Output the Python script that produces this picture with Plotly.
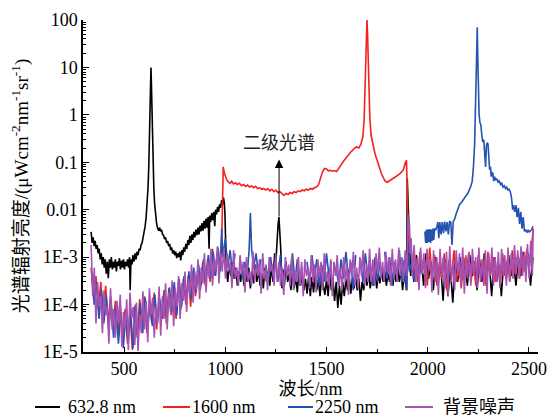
import math
import plotly.graph_objects as go

# ---------------- data (wavelength nm, radiance) ----------------
black_vis = [(337,3.4e-3),(342,2.0e-3),(347,2.6e-3),(352,1.7e-3),(357,2.2e-3),(362,1.5e-3),(367,1.8e-3),
    (372,1.2e-3),(377,1.5e-3),(382,9e-4),(387,1.2e-3),(392,7e-4),(397,1.0e-3),(402,6e-4),(407,9e-4),
    (412,4.5e-4),(417,8e-4),(422,3.6e-4),(427,9e-4),(432,6e-4),(437,1.0e-3),(442,5.5e-4),(447,8e-4),
    (452,6e-4),(457,9e-4),(462,5e-4),(467,8e-4),(472,6.5e-4),(477,9.5e-4),(482,5.5e-4),(487,8.5e-4),
    (492,6e-4),(497,9e-4),(502,5.5e-4),(507,8e-4),(512,6.5e-4),(517,9e-4),(522,6e-4),(527,1.0e-3),
    (530,2.0e-4),(534,9e-4),(539,7e-4),(544,1.1e-3),(549,8e-4),(554,1.2e-3),(559,9e-4),(564,1.3e-3),
    (569,1.1e-3),(574,1.5e-3),(579,1.4e-3),(584,1.8e-3),(589,2.0e-3),(594,2.6e-3),(599,3.2e-3),
    (604,4.5e-3),(609,7e-3),(614,0.013),(618,0.028),(622,0.08),(625,0.25),(628,1.2),(630.5,4.5),
    (632.8,10),(635,4.5),(637.5,1.2),(640,0.25),(643,0.08),(647,0.028),(651,0.013),(656,7e-3),
    (661,5e-3),(666,4e-3),(671,3.6e-3),(676,4.2e-3),(680,3.5e-3),(685,3.8e-3),(690,3.0e-3),(695,2.9e-3),
    (700,2.4e-3),(705,2.6e-3),(710,2.0e-3),(715,2.2e-3),(720,1.7e-3),(725,1.9e-3),(730,1.4e-3),
    (735,1.6e-3),(740,1.2e-3),(745,1.4e-3),(750,1.1e-3),(755,1.3e-3),(760,9.5e-4),(765,1.2e-3),
    (770,1.0e-3),(775,1.3e-3),(780,8.5e-4),(785,1.4e-3),(790,1.1e-3),(795,1.6e-3),(800,1.3e-3),
    (805,1.9e-3),(810,1.5e-3),(815,2.3e-3),(820,1.8e-3),(825,2.8e-3),(830,2.0e-3),(835,3.0e-3),
    (840,2.3e-3),(845,3.4e-3),(850,2.6e-3),(855,3.8e-3),(860,2.9e-3),(865,4.2e-3),(870,3.0e-3),
    (875,4.6e-3),(880,3.5e-3),(885,5.2e-3),(890,3.6e-3),(895,5.8e-3),(900,4.0e-3),(905,6.5e-3),
    (910,4.2e-3),(915,7e-3),(920,1.5e-3),(923,7.5e-3),(928,5.5e-3),(933,8.5e-3),(938,6e-3),(943,9e-3),
    (948,4.5e-3),(952,1e-2),(957,8e-3),(962,1.15e-2),(967,9e-3),(972,1.3e-2),(977,1.1e-2),(982,1.6e-2),
    (987,1.3e-2),(991,1.8e-2),(995,1.4e-2),(998,9e-3),(1000,2e-3)]
black_nir = [(1005,6e-4),(1012,3e-4),(1020,7e-4),(1028,4e-4),(1036,8e-4),(1044,3.5e-4),(1052,6e-4),
    (1060,2.5e-4),(1068,5e-4),(1076,3e-4),(1084,6.5e-4),(1092,2.5e-4),(1100,5.5e-4),(1108,3e-4),
    (1116,6e-4),(1124,2.2e-4),(1132,5e-4),(1140,2.8e-4),(1148,7e-4),(1156,3e-4),(1164,5.5e-4),
    (1172,2.5e-4),(1180,4.5e-4),(1188,2.2e-4),(1196,6e-4),(1204,3e-4),(1212,5e-4),(1220,2.5e-4),
    (1228,6.5e-4),(1236,3e-4),(1244,1.2e-3),(1250,8e-4),(1256,3e-3),(1261,5e-3),(1265,7e-3),
    (1269,4e-3),(1274,1.5e-3),(1280,2.2e-4),(1286,5.5e-4),(1292,2.5e-4),(1300,8e-4),(1308,3e-4),
    (1316,4.5e-4),(1324,2e-4),(1332,5e-4),(1340,2.2e-4),(1348,4e-4),(1356,1.8e-4),(1364,5.5e-4),
    (1372,2.5e-4),(1380,4.5e-4),(1388,2e-4),(1396,3.5e-4),(1404,1.7e-4),(1412,4e-4),(1420,1.5e-4),
    (1428,3.8e-4),(1436,1.8e-4),(1444,4.5e-4),(1452,2e-4),(1460,3.5e-4),(1468,1.5e-4),(1476,4e-4),
    (1484,2.5e-4),(1492,1.6e-4),(1500,3.5e-4),(1508,1.5e-4),(1516,5e-4),(1524,2e-4),(1532,3.5e-4),
    (1540,1.2e-4),(1548,3e-4),(1556,8.5e-5),(1564,2.5e-4),(1572,1.0e-4),(1580,3e-4),(1588,1.5e-4),
    (1596,3.5e-4),(1604,2e-4),(1612,4e-4),(1620,1.7e-4),(1628,3.5e-4),(1636,2.2e-4),(1644,4e-4),
    (1652,2e-4),(1660,3.5e-4),(1668,1.2e-4),(1676,3e-4),(1684,2e-4),(1692,4.5e-4),(1700,2.5e-4),
    (1708,5e-4),(1716,2.2e-4),(1724,4e-4),(1732,2.5e-4),(1740,5e-4),(1748,2.2e-4),(1756,4.5e-4),
    (1764,2.8e-4),(1772,5.5e-4),(1780,3e-4),(1788,5e-4),(1796,2.5e-4),(1804,4.5e-4),(1812,3e-4),
    (1820,5.5e-4),(1828,2.5e-4),(1836,5e-4),(1844,3e-4),(1852,6e-4),(1860,3e-4),(1868,5.5e-4),
    (1876,2e-4),(1884,4.5e-4),(1892,2.2e-4),(1896,2e-4),(1899,0.045),(1904,0.01),(1910,1.5e-3),
    (1916,4e-4)]
black_swir = [(1920,8e-4),(1932,3e-4),(1944,1.1e-3),(1956,4e-4),(1968,9e-4),(1980,2.5e-4),(1992,1.2e-3),
    (2004,3.5e-4),(2016,8e-4),(2028,2e-4),(2040,1.0e-3),(2052,3e-4),(2064,7e-4),(2076,1.2e-4),
    (2088,9e-4),(2100,1.5e-4),(2112,6e-4),(2124,1.1e-4),(2136,8e-4),(2148,3e-4),(2160,1.0e-3),
    (2172,3.5e-4),(2184,7e-4),(2196,2.5e-4),(2208,1.1e-3),(2220,4e-4),(2232,8e-4),(2244,2e-4),
    (2256,9e-4),(2268,3e-4),(2280,1.2e-3),(2292,4e-4),(2304,8e-4),(2316,1.5e-4),(2328,1.0e-3),
    (2340,3e-4),(2352,7e-4),(2364,1.5e-4),(2376,9e-4),(2388,3.5e-4),(2400,1.1e-3),(2412,4e-4),
    (2424,8e-4),(2436,2.5e-4),(2448,1.0e-3),(2460,4e-4),(2472,1.3e-3),(2484,5e-4),(2496,1.2e-3),
    (2508,2.5e-4),(2520,1.0e-3)]

red_vis = [(337,6e-4),(349,1.5e-4),(361,4e-4),(373,8e-5),(385,3e-4),(397,5e-5),(409,2.5e-4),(421,4e-5),
    (433,1.5e-4),(445,3e-5),(457,1.2e-4),(469,2.5e-5),(481,1e-4),(493,2e-5),(505,8e-5),(517,1.5e-5),
    (529,7e-5),(541,1.1e-5),(553,9e-5),(565,2e-5),(577,1.3e-4),(589,3e-5),(601,1.5e-4),(613,2.5e-5),
    (625,1.2e-4),(637,4e-5),(649,1.8e-4),(661,3e-5),(673,1.5e-4),(685,5e-5),(697,2e-4),(709,4e-5),
    (721,2.2e-4),(733,6e-5),(745,2.5e-4),(757,5e-5),(769,3e-4),(781,8e-5),(793,3.5e-4),(805,1e-4),
    (817,4e-4),(829,9e-5),(841,5e-4),(853,1.5e-4),(865,6e-4),(877,2e-4),(889,8e-4),(901,2.5e-4),
    (913,9e-4),(925,3e-4),(937,1.5e-3),(949,4e-4),(961,1.2e-3),(973,6e-4),(983,3e-3)]
red_nir = [(988,0.079),(990,0.08),(995,0.06),(1000,0.05),(1008,0.042),(1016,0.038),(1024,0.036),
    (1032,0.04),(1040,0.035),(1050,0.037),(1060,0.034),(1070,0.036),(1080,0.032),(1090,0.034),
    (1100,0.031),(1110,0.033),(1120,0.03),(1130,0.032),(1140,0.029),(1150,0.031),(1160,0.028),
    (1170,0.029),(1180,0.027),(1190,0.028),(1200,0.026),(1210,0.028),(1220,0.025),(1230,0.027),
    (1240,0.024),(1250,0.026),(1260,0.023),(1270,0.024),(1280,0.022),(1290,0.02),(1300,0.022),
    (1310,0.021),(1320,0.023),(1330,0.022),(1340,0.024),(1350,0.023),(1360,0.025),(1370,0.024),
    (1380,0.026),(1390,0.025),(1400,0.027),(1410,0.026),(1420,0.028),(1430,0.027),(1440,0.029),
    (1450,0.03),(1460,0.033),(1470,0.045),(1480,0.062),(1490,0.074),(1500,0.072),(1510,0.066),
    (1520,0.068),(1530,0.065),(1540,0.067),(1550,0.064),(1560,0.072),(1570,0.085),(1580,0.1),
    (1590,0.115),(1600,0.13),(1610,0.15),(1620,0.165),(1630,0.18),(1640,0.2),(1650,0.21),(1660,0.2),
    (1670,0.24),(1680,0.35),(1686,0.8),(1690,2.5),(1694,12),(1697,50),(1700,100),(1703,50),(1706,12),
    (1710,2.5),(1714,0.9),(1720,0.38),(1730,0.22),(1740,0.15),(1750,0.11),(1760,0.08),(1770,0.06),
    (1780,0.048),(1790,0.04),(1800,0.038),(1810,0.04),(1820,0.043),(1830,0.046),(1840,0.049),
    (1850,0.052),(1860,0.056),(1870,0.062),(1880,0.07),(1890,0.1),(1895,0.11),(1900,0.02)]
red_swir = [(1903,3e-3),(1910,1.2e-3),(1916,2.5e-3),(1926,4e-4),(1938,1.0e-3),(1950,3e-4),(1962,1.3e-3),
    (1974,5e-4),(1986,9e-4),(1998,2.5e-4),(2010,1.6e-3),(2022,4e-4),(2034,1.1e-3),(2046,2.5e-4),
    (2058,8e-4),(2070,3.5e-4),(2082,1.2e-3),(2094,2e-4),(2106,9e-4),(2118,4e-4),(2130,1.4e-3),
    (2142,3e-4),(2154,7e-4),(2166,2.2e-4),(2178,1.0e-3),(2190,4e-4),(2202,1.2e-3),(2214,3e-4),
    (2226,8e-4),(2238,2.5e-4),(2250,1.1e-3),(2262,3.5e-4),(2274,9e-4),(2286,2.5e-4),(2298,1.3e-3),
    (2310,4e-4),(2322,1.0e-3),(2334,3e-4),(2346,8e-4),(2358,2.5e-4),(2370,1.2e-3),(2382,4e-4),
    (2394,9e-4),(2406,3e-4),(2418,1.4e-3),(2430,4.5e-4),(2442,1.0e-3),(2454,3.5e-4),(2466,1.2e-3),
    (2478,5e-4),(2490,1.5e-3),(2502,6e-4),(2514,1.8e-3),(2522,4e-3)]

blue_vis_nir = [(340,5e-4),(352,1e-4),(364,3e-4),(376,5e-5),(388,2e-4),(400,4e-5),(412,1.5e-4),(424,3e-5),
    (436,1.2e-4),(448,2e-5),(460,9e-5),(472,1.5e-5),(484,7e-5),(496,1.2e-5),(508,6e-5),(520,1.5e-5),
    (532,8e-5),(544,1.2e-5),(556,1e-4),(568,2e-5),(580,1.1e-4),(592,2.5e-5),(604,1.4e-4),(616,3e-5),
    (628,1.1e-4),(640,3.5e-5),(652,1.6e-4),(664,4e-5),(676,1.3e-4),(688,5e-5),(700,2e-4),(712,5e-5),
    (724,2.3e-4),(736,7e-5),(748,3e-4),(760,6e-5),(772,3.5e-4),(784,9e-5),(796,4e-4),(808,1.1e-4),
    (820,5e-4),(832,1.3e-4),(844,6e-4),(856,1.8e-4),(868,7e-4),(880,2.5e-4),(892,9e-4),(904,3e-4),
    (916,1.1e-3),(928,3.5e-4),(940,1.3e-3),(952,4e-4),(964,1.6e-3),(976,5e-4),(982,4e-3),(988,1e-3),
    (1000,2.5e-3),(1012,6e-4),(1024,1.4e-3),(1036,4e-4),(1048,1.2e-3),(1060,None),(1072,1.0e-3),
    (1084,3.5e-4),(1096,8e-4),(1108,4e-4),(1118,1.5e-3),(1124,8.5e-3),(1130,1.5e-3),(1140,6e-4),
    (1152,1.2e-3),(1164,4e-4),(1176,9e-4),(1188,None),(1200,7e-4),(1212,3e-4),(1224,1.0e-3),
    (1236,4e-4),(1248,8e-4),(1260,3e-4),(1272,1.1e-3),(1284,2.5e-4),(1296,7e-4),(1308,None),
    (1320,5e-4),(1332,1.2e-3),(1344,3e-4),(1356,9e-4),(1368,2.5e-4),(1380,6e-4),(1392,None),
    (1404,8e-4),(1416,3e-4),(1428,1.1e-3),(1440,4e-4),(1452,9e-4),(1464,2.5e-4),(1476,7e-4),
    (1488,3e-4),(1500,1.2e-3),(1512,4e-4),(1524,8e-4),(1536,None),(1548,6e-4),(1560,2.5e-4),
    (1572,9e-4),(1584,3.5e-4),(1596,1.3e-3),(1608,4e-4),(1620,8e-4),(1632,2e-4),(1644,1.1e-3),
    (1656,None),(1668,9e-4),(1680,3e-4),(1692,1.2e-3),(1704,4e-4),(1716,7e-4),(1728,2.5e-4),
    (1740,1.0e-3),(1752,3e-4),(1764,8e-4),(1776,None),(1788,1.3e-3),(1800,3.5e-4),(1812,1.0e-3),
    (1824,2.5e-4),(1836,8e-4),(1848,4e-4),(1860,1.4e-3),(1872,3e-4),(1884,9e-4),(1896,2e-4),
    (1905,2e-3),(1910,5e-4),(1922,8e-4),(1934,3e-4),(1946,9e-4),(1958,4e-4),(1970,7e-4),(1982,None)]
blue_swir = [(1986,3.5e-3),(1990,2e-3),(1994,3.8e-3),(1998,2e-3),(2002,3.8e-3),(2006,2.1e-3),
    (2010,3.9e-3),(2014,2e-3),(2018,3.8e-3),(2022,2.2e-3),(2026,4e-3),(2030,2.3e-3),(2034,4e-3),
    (2040,3.8e-3),(2046,4.5e-3),(2050,5.5e-3),(2055,2.5e-3),(2060,5.5e-3),(2066,3e-3),(2072,5.5e-3),
    (2078,3.2e-3),(2084,5.6e-3),(2090,3.5e-3),(2096,5.5e-3),(2102,3e-3),(2108,5.6e-3),(2114,5.5e-3),
    (2120,1.8e-3),(2126,5.5e-3),(2134,6.5e-3),(2142,8.5e-3),(2150,0.011),(2158,0.013),(2166,0.014),
    (2174,0.016),(2182,0.018),(2190,0.02),(2198,0.022),(2206,0.026),(2214,0.032),(2220,0.04),
    (2226,0.08),(2232,0.25),(2236,1),(2240,5),(2243,30),(2245,70),(2247,20),(2250,3),(2254,1.0),
    (2258,0.7),(2263,0.6),(2268,0.35),(2272,0.27),(2277,0.3),(2282,0.1),(2286,0.08),(2290,0.22),
    (2294,0.26),(2298,0.24),(2302,0.1),(2306,0.07),(2310,0.08),(2314,0.05),(2318,0.06),(2322,0.058),
    (2326,0.04),(2330,0.05),(2336,0.042),(2342,0.045),(2348,0.038),(2354,0.04),(2360,0.034),
    (2366,0.036),(2372,0.03),(2378,0.032),(2384,0.028),(2390,0.03),(2396,0.026),(2402,0.027),
    (2408,0.024),(2414,0.018),(2420,0.01),(2424,0.0125),(2430,0.009),(2436,0.0125),(2442,0.007),
    (2448,0.011),(2454,0.005),(2460,0.009),(2466,0.004),(2472,0.007),(2478,0.0035),(2484,0.0038),
    (2490,0.0033),(2496,0.0037),(2502,0.0034),(2508,0.0036),(2514,0.0038),(2520,0.0045)]

noise_pts = [(337,1.8e-3),(345,1.5e-4),(353,6e-4),(361,4e-5),(369,3e-4),(377,9e-5),(385,1.5e-4),(393,2.5e-5),
    (401,2e-4),(409,6e-5),(417,9e-5),(425,1.5e-5),(433,2.2e-4),(441,3e-5),(449,8e-5),(457,2e-5),
    (465,1.2e-4),(473,4e-5),(481,1.6e-4),(489,1.3e-5),(497,7e-5),(505,3e-5),(513,1.3e-4),(521,1.1e-5),
    (529,1.8e-4),(537,5e-5),(545,9e-5),(553,1.4e-5),(561,1.1e-4),(569,1.05e-5),(577,6e-5),(585,2.5e-5),
    (593,1.9e-4),(601,3e-5),(609,1.2e-4),(617,1.6e-5),(625,2.2e-4),(633,6e-5),(641,1.4e-4),(649,2e-5),
    (657,9e-5),(665,4e-5),(673,2.4e-4),(681,2.2e-5),(689,1.5e-4),(697,5e-5),(705,2.8e-4),(713,3e-5),
    (721,1.8e-4),(729,7e-5),(737,3.2e-4),(745,3.5e-5),(753,2.2e-4),(761,9e-5),(769,4e-4),(777,5e-5),
    (785,2.8e-4),(793,1.2e-4),(801,5e-4),(809,7e-5),(817,3.5e-4),(825,1.6e-4),(833,7e-4),(841,1.1e-4),
    (849,5e-4),(857,2e-4),(865,9e-4),(873,1.3e-4),(881,6e-4),(889,2.8e-4),(897,1.2e-3),(905,1.8e-4),
    (913,8e-4),(921,3.5e-4),(929,1.5e-3),(937,2.5e-4),(945,1e-3),(953,5e-4),(961,1.7e-3),(969,2.8e-4),
    (977,1.2e-3),(985,5e-4),(993,1.5e-3),(1001,3.5e-4),(1009,1.2e-3),(1017,5e-4),(1025,8e-4),
    (1033,2.2e-4),(1041,1.4e-3),(1049,3.5e-4),(1057,6e-4),(1065,2.5e-4),(1073,1.1e-3),(1081,4.5e-4),
    (1089,8e-4),(1097,1.8e-4),(1105,1.0e-3),(1113,3e-4),(1121,5e-4),(1129,2.5e-4),(1137,1.3e-3),
    (1145,3e-4),(1153,7e-4),(1161,4e-4),(1169,9e-4),(1177,1.7e-4),(1185,1.2e-3),(1193,3.5e-4),
    (1201,6e-4),(1209,2e-4),(1217,1.0e-3),(1225,5e-4),(1233,7e-4),(1241,2.5e-4),(1249,1.2e-3),
    (1257,3e-4),(1265,8e-4),(1273,2.5e-4),(1281,6e-4),(1289,1.6e-4),(1297,1.0e-3),(1305,4e-4),
    (1313,7e-4),(1321,2.5e-4),(1329,1.1e-3),(1337,2e-4),(1345,5e-4),(1353,3e-4),(1361,1.0e-3),
    (1369,2.5e-4),(1377,8e-4),(1385,1.5e-4),(1393,9e-4),(1401,4e-4),(1409,6e-4),(1417,2.2e-4),
    (1425,1.1e-3),(1433,3e-4),(1441,7e-4),(1449,1.8e-4),(1457,9e-4),(1465,4e-4),(1473,8e-4),
    (1481,2e-4),(1489,1.2e-3),(1497,3e-4),(1505,5e-4),(1513,2.5e-4),(1521,9e-4),(1529,1.5e-4),
    (1537,8e-4),(1545,4e-4),(1553,1.1e-3),(1561,2.5e-4),(1569,6e-4),(1577,2e-4),(1585,1.0e-3),
    (1593,3e-4),(1601,7e-4),(1609,1.6e-4),(1617,9e-4),(1625,4e-4),(1633,1.3e-3),(1641,2.5e-4),
    (1649,6e-4),(1657,2.2e-4),(1665,1.0e-3),(1673,4e-4),(1681,1.4e-3),(1689,2.5e-4),(1697,7e-4),
    (1705,3e-4),(1713,1.5e-3),(1721,3e-4),(1729,9e-4),(1737,2.5e-4),(1745,1.2e-3),(1753,4.5e-4),
    (1761,1.6e-3),(1769,3.5e-4),(1777,8e-4),(1785,3e-4),(1793,1.3e-3),(1801,5e-4),(1809,1.0e-3),
    (1817,2.5e-4),(1825,1.5e-3),(1833,3.5e-4),(1841,9e-4),(1849,3e-4),(1857,1.6e-3),(1865,4e-4),
    (1873,1.0e-3),(1881,3e-4),(1889,1.4e-3),(1897,4e-4),(1902,8e-3),(1906,3e-3),(1910,5e-3),
    (1914,1.2e-3),(1918,2.5e-3),(1925,4e-4),(1933,1.8e-3),(1941,3e-4),(1949,1.0e-3),(1957,2e-4),
    (1965,1.6e-3),(1973,4.5e-4),(1981,1.2e-3),(1989,2.2e-4),(1997,1.5e-3),(2005,5e-4),(2013,9e-4),
    (2021,1.8e-4),(2029,1.4e-3),(2037,3e-4),(2045,1.0e-3),(2053,1.6e-4),(2061,1.5e-3),(2069,4e-4),
    (2077,1.0e-3),(2085,2.2e-4),(2093,1.3e-3),(2101,1.5e-4),(2109,1.7e-3),(2117,3e-4),(2125,8e-4),
    (2133,2e-4),(2141,1.4e-3),(2149,4e-4),(2157,1.2e-3),(2165,2.5e-4),(2173,1.6e-3),(2181,1.7e-4),
    (2189,1.1e-3),(2197,3.5e-4),(2205,1.3e-3),(2213,2.5e-4),(2221,1.5e-3),(2229,4e-4),(2237,1.0e-3),
    (2245,2.2e-4),(2253,1.6e-3),(2261,3e-4),(2269,9e-4),(2277,2.5e-4),(2285,1.4e-3),(2293,1.7e-4),
    (2301,1.2e-3),(2309,4e-4),(2317,1.6e-3),(2325,2.5e-4),(2333,1.0e-3),(2341,3e-4),(2349,1.3e-3),
    (2357,2.2e-4),(2365,1.5e-3),(2373,4e-4),(2381,1.1e-3),(2389,2.5e-4),(2397,1.6e-3),(2405,3e-4),
    (2413,1.2e-3),(2421,3.5e-4),(2429,1.8e-3),(2437,4.5e-4),(2445,1.4e-3),(2453,3.5e-4),(2461,1.7e-3),
    (2469,4e-4),(2477,1.3e-3),(2485,3e-4),(2493,1.9e-3),(2501,3.5e-4),(2509,2.2e-3),(2517,4e-4),
    (2521,3.5e-3)]

series_names = ["632.8 nm", "1600 nm", "2250 nm", "背景噪声"]
series_colors = ["#000000", "#f5201f", "#2452b0", "#a652b2"]

y_tickvals = [1e-5, 1e-4, 1e-3, 0.01, 0.1, 1, 10, 100]
y_ticktext = ["1E-5", "1E-4", "1E-3", "0.01", "0.1", "1", "10", "100"]
x_tickvals = [500, 1000, 1500, 2000, 2500]
x_minor = [750, 1250, 1750, 2250]
y_minor = [m * 10.0 ** e for e in range(-5, 2) for m in range(2, 10)]

second_order_x = 1265.6
second_order_tail = 0.0067
second_order_head = 0.115
second_order_label_y = 0.28

# ---------------- figure ----------------
W, H = 553, 420
ML, MR, MT, MB = 83, 15, 20, 68
PW, PH = W - ML - MR, H - MT - MB


def split(pts):
    return [p[0] for p in pts], [p[1] for p in pts]


series_pts = [black_vis + black_nir + black_swir,
              red_vis + red_nir + red_swir,
              blue_vis_nir + blue_swir,
              noise_pts]

fig = go.Figure()
for name, col, pts in zip(series_names, series_colors, series_pts):
    xs, ys = split(pts)
    fig.add_trace(go.Scatter(x=xs, y=ys, mode="lines", name=name, showlegend=False,
                             line=dict(color=col, width=1.6), connectgaps=False))

serif = "Liberation Serif, Times New Roman, Noto Sans CJK SC, serif"

fig.update_layout(
    width=W, height=H,
    margin=dict(l=ML, r=MR, t=MT, b=MB, autoexpand=False),
    paper_bgcolor="white", plot_bgcolor="white",
    font=dict(family=serif, size=18, color="black"),
    showlegend=False,
    xaxis=dict(range=[297, 2545], showline=True, linecolor="black", linewidth=1.5,
               ticks="inside", ticklen=5, tickwidth=1.3, tickcolor="black",
               tickvals=x_tickvals, showgrid=False, zeroline=False, automargin=False,
               tickfont=dict(size=18),
               minor=dict(tickmode="array", tickvals=x_minor, ticks="inside", ticklen=3,
                          tickwidth=1, tickcolor="black", showgrid=False),
               title=dict(text="波长/nm", standoff=2, font=dict(size=18))),
    yaxis=dict(type="log", range=[-5, 2], showline=True, linecolor="black", linewidth=1.5,
               ticks="inside", ticklen=6, tickwidth=1.3, tickcolor="black",
               tickvals=y_tickvals, ticktext=y_ticktext, showgrid=False, zeroline=False,
               automargin=False, tickfont=dict(size=18),
               minor=dict(tickmode="array", tickvals=y_minor, ticks="inside", ticklen=3,
                          tickwidth=1, tickcolor="black", showgrid=False),
               title=dict(text="光谱辐射亮度/(μWcm<sup>-2</sup>nm<sup>-1</sup>sr<sup>-1</sup>)",
                          standoff=9, font=dict(size=19))),
)

# arrow and label for the second-order spectrum
fig.add_annotation(x=second_order_x, y=math.log10(second_order_head),
                   ax=second_order_x, ay=math.log10(second_order_tail),
                   xref="x", yref="y", axref="x", ayref="y", text="",
                   showarrow=True, arrowhead=2, arrowsize=1.7, arrowwidth=1, arrowcolor="black")
fig.add_annotation(x=second_order_x, y=math.log10(second_order_label_y), xref="x", yref="y",
                   text="二级光谱", showarrow=False,
                   font=dict(family="Noto Sans CJK SC", size=18, color="#222"))

# legend row below the axis title (pixel positions converted to paper coords)
legend_line_px = [(35, 60), (163, 190), (288, 313), (405, 433)]
legend_text_px = [66, 190, 313, 441]
legend_y_px = 407
ly = (MT + PH - legend_y_px) / PH
for (x0, x1), tx, name, col in zip(legend_line_px, legend_text_px, series_names, series_colors):
    fig.add_shape(type="line", xref="paper", yref="paper",
                  x0=(x0 - ML) / PW, x1=(x1 - ML) / PW, y0=ly, y1=ly,
                  line=dict(color=col, width=2))
    fig.add_annotation(xref="paper", yref="paper", x=(tx - ML) / PW, y=ly,
                       xanchor="left", yanchor="middle", text=name, showarrow=False,
                       font=dict(size=18, color="black"))

# remove the page's default body margin so the 553x420 figure fills the window exactly
fig.write_html("out.html", config={"displayModeBar": False},
               post_script="document.body.style.margin='0';document.body.style.overflow='hidden';")
